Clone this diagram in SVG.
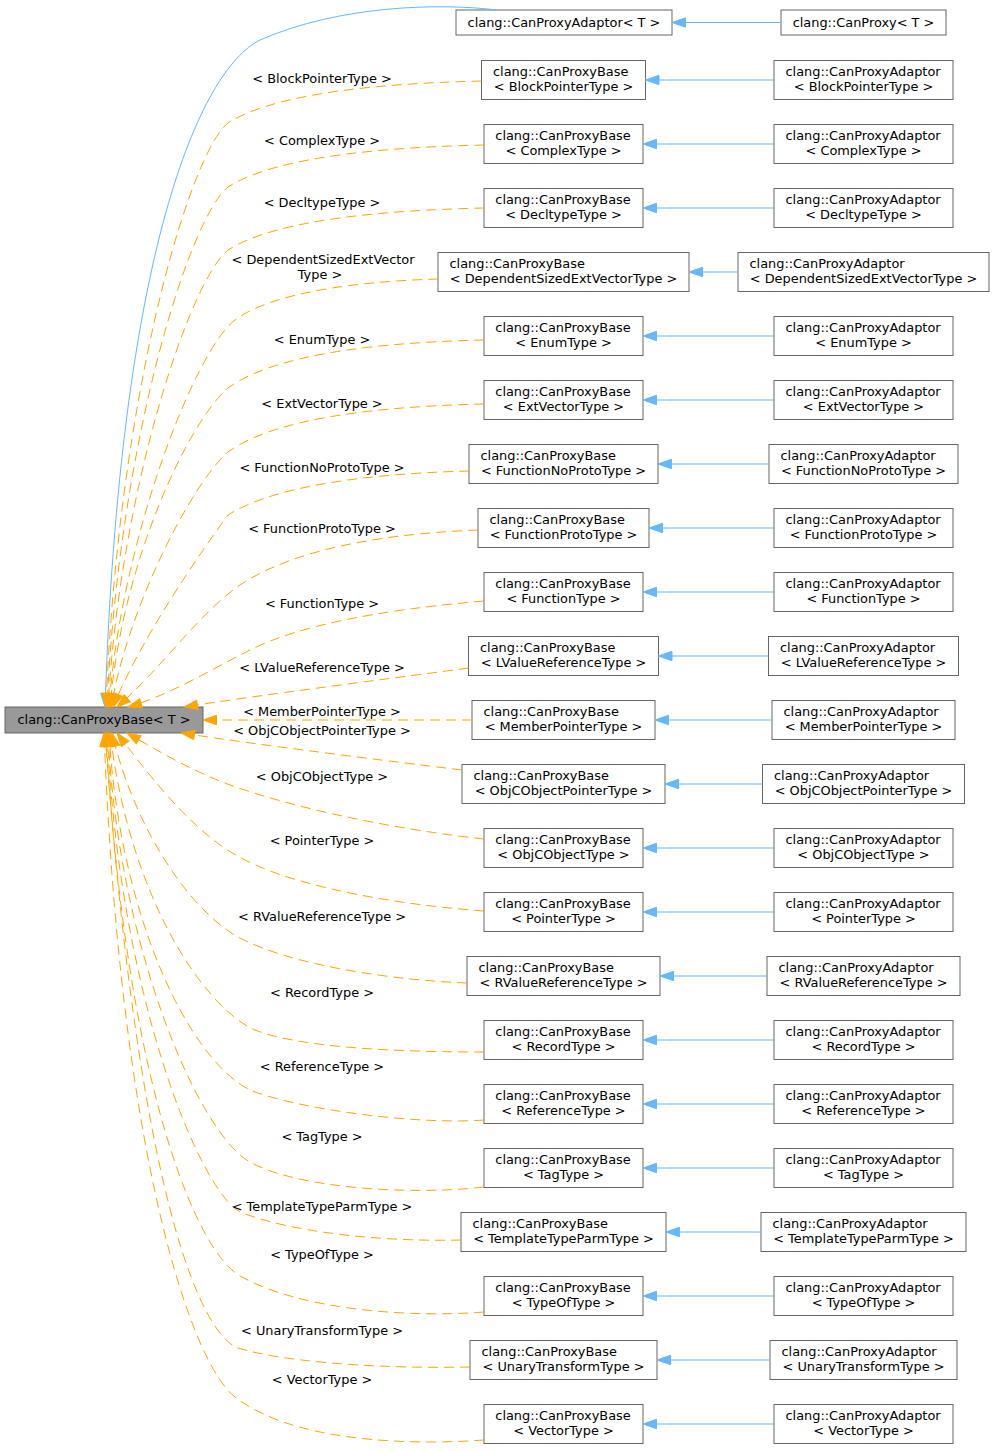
<svg xmlns="http://www.w3.org/2000/svg" width="995" height="1451" viewBox="0 0 995 1451">
<style>
.n rect{fill:#fff;stroke:#666;stroke-width:1}
#main rect{fill:#999}
text{font-family:"DejaVu Sans","Liberation Sans",sans-serif;font-size:12.9px;fill:#000}
.c{text-anchor:middle}
.o{fill:none;stroke:#ffa500;stroke-width:1;stroke-dasharray:10,6;marker-end:url(#ao)}
.b{fill:none;stroke:#63b8ff;stroke-width:1;marker-end:url(#ab)}
</style>
<defs>
<marker id="ao" markerUnits="userSpaceOnUse" markerWidth="16" markerHeight="12" refX="13.5" refY="5" orient="auto" overflow="visible"><path d="M0,0.3 L13.5,5 L0,9.7 z" fill="#ffa500" stroke="#ffa500"/></marker>
<marker id="ab" markerUnits="userSpaceOnUse" markerWidth="16" markerHeight="12" refX="13.5" refY="5" orient="auto" overflow="visible"><path d="M0,0.3 L13.5,5 L0,9.7 z" fill="#63b8ff" stroke="#63b8ff"/></marker>
</defs>
<rect width="995" height="1451" fill="#fff"/>

<g id="main" class="n"><rect x="5" y="707" width="198" height="26"/><text class="c" x="104" y="724">clang::CanProxyBase&lt; T &gt;</text></g>

<g id="adaptorT" class="n"><rect x="456" y="10" width="216" height="25"/><text class="c" x="564" y="27">clang::CanProxyAdaptor&lt; T &gt;</text></g>
<g id="proxyT" class="n"><rect x="781" y="10" width="165" height="25"/><text class="c" x="863.5" y="27">clang::CanProxy&lt; T &gt;</text></g>

<g id="b1" class="n"><rect x="481.5" y="60.5" width="164" height="39"/><text x="493" y="76">clang::CanProxyBase</text><text class="c" x="563.5" y="91">&lt; BlockPointerType &gt;</text></g>
<g id="a1" class="n"><rect x="774" y="60.5" width="179" height="39"/><text x="785.5" y="76">clang::CanProxyAdaptor</text><text class="c" x="863.5" y="91">&lt; BlockPointerType &gt;</text></g>

<g id="b2" class="n"><rect x="484" y="124.5" width="159" height="39"/><text x="495.3" y="140">clang::CanProxyBase</text><text class="c" x="563.5" y="155">&lt; ComplexType &gt;</text></g>
<g id="a2" class="n"><rect x="774" y="124.5" width="179" height="39"/><text x="785.5" y="140">clang::CanProxyAdaptor</text><text class="c" x="863.5" y="155">&lt; ComplexType &gt;</text></g>

<g id="b3" class="n"><rect x="484" y="188.5" width="159" height="39"/><text x="495.3" y="204">clang::CanProxyBase</text><text class="c" x="563.5" y="219">&lt; DecltypeType &gt;</text></g>
<g id="a3" class="n"><rect x="774" y="188.5" width="179" height="39"/><text x="785.5" y="204">clang::CanProxyAdaptor</text><text class="c" x="863.5" y="219">&lt; DecltypeType &gt;</text></g>

<g id="b4" class="n"><rect x="438" y="252.5" width="251" height="39"/><text x="449.5" y="268">clang::CanProxyBase</text><text class="c" x="563.5" y="283">&lt; DependentSizedExtVectorType &gt;</text></g>
<g id="a4" class="n"><rect x="738" y="252.5" width="251" height="39"/><text x="749.5" y="268">clang::CanProxyAdaptor</text><text class="c" x="863.5" y="283">&lt; DependentSizedExtVectorType &gt;</text></g>

<g id="b5" class="n"><rect x="484" y="316.5" width="159" height="39"/><text x="495.3" y="332">clang::CanProxyBase</text><text class="c" x="563.5" y="347">&lt; EnumType &gt;</text></g>
<g id="a5" class="n"><rect x="774" y="316.5" width="179" height="39"/><text x="785.5" y="332">clang::CanProxyAdaptor</text><text class="c" x="863.5" y="347">&lt; EnumType &gt;</text></g>

<g id="b6" class="n"><rect x="484" y="380.5" width="159" height="39"/><text x="495.3" y="396">clang::CanProxyBase</text><text class="c" x="563.5" y="411">&lt; ExtVectorType &gt;</text></g>
<g id="a6" class="n"><rect x="774" y="380.5" width="179" height="39"/><text x="785.5" y="396">clang::CanProxyAdaptor</text><text class="c" x="863.5" y="411">&lt; ExtVectorType &gt;</text></g>

<g id="b7" class="n"><rect x="469" y="444.5" width="189" height="39"/><text x="480.5" y="460">clang::CanProxyBase</text><text class="c" x="563.5" y="475">&lt; FunctionNoProtoType &gt;</text></g>
<g id="a7" class="n"><rect x="769" y="444.5" width="189" height="39"/><text x="780.5" y="460">clang::CanProxyAdaptor</text><text class="c" x="863.5" y="475">&lt; FunctionNoProtoType &gt;</text></g>

<g id="b8" class="n"><rect x="478" y="508.5" width="171" height="39"/><text x="489.5" y="524">clang::CanProxyBase</text><text class="c" x="563.5" y="539">&lt; FunctionProtoType &gt;</text></g>
<g id="a8" class="n"><rect x="774" y="508.5" width="179" height="39"/><text x="785.5" y="524">clang::CanProxyAdaptor</text><text class="c" x="863.5" y="539">&lt; FunctionProtoType &gt;</text></g>

<g id="b9" class="n"><rect x="484" y="572.5" width="159" height="39"/><text x="495.3" y="588">clang::CanProxyBase</text><text class="c" x="563.5" y="603">&lt; FunctionType &gt;</text></g>
<g id="a9" class="n"><rect x="774" y="572.5" width="179" height="39"/><text x="785.5" y="588">clang::CanProxyAdaptor</text><text class="c" x="863.5" y="603">&lt; FunctionType &gt;</text></g>

<g id="b10" class="n"><rect x="468.5" y="636.5" width="190" height="39"/><text x="480" y="652">clang::CanProxyBase</text><text class="c" x="563.5" y="667">&lt; LValueReferenceType &gt;</text></g>
<g id="a10" class="n"><rect x="768.5" y="636.5" width="190" height="39"/><text x="780" y="652">clang::CanProxyAdaptor</text><text class="c" x="863.5" y="667">&lt; LValueReferenceType &gt;</text></g>

<g id="b11" class="n"><rect x="472" y="700.5" width="183" height="39"/><text x="483.5" y="716">clang::CanProxyBase</text><text class="c" x="563.5" y="731">&lt; MemberPointerType &gt;</text></g>
<g id="a11" class="n"><rect x="772" y="700.5" width="183" height="39"/><text x="783.5" y="716">clang::CanProxyAdaptor</text><text class="c" x="863.5" y="731">&lt; MemberPointerType &gt;</text></g>

<g id="b12" class="n"><rect x="462" y="764.5" width="203" height="39"/><text x="473.5" y="780">clang::CanProxyBase</text><text class="c" x="563.5" y="795">&lt; ObjCObjectPointerType &gt;</text></g>
<g id="a12" class="n"><rect x="762.5" y="764.5" width="202" height="39"/><text x="774" y="780">clang::CanProxyAdaptor</text><text class="c" x="863.5" y="795">&lt; ObjCObjectPointerType &gt;</text></g>

<g id="b13" class="n"><rect x="484" y="828.5" width="159" height="39"/><text x="495.3" y="844">clang::CanProxyBase</text><text class="c" x="563.5" y="859">&lt; ObjCObjectType &gt;</text></g>
<g id="a13" class="n"><rect x="774" y="828.5" width="179" height="39"/><text x="785.5" y="844">clang::CanProxyAdaptor</text><text class="c" x="863.5" y="859">&lt; ObjCObjectType &gt;</text></g>

<g id="b14" class="n"><rect x="484" y="892.5" width="159" height="39"/><text x="495.3" y="908">clang::CanProxyBase</text><text class="c" x="563.5" y="923">&lt; PointerType &gt;</text></g>
<g id="a14" class="n"><rect x="774" y="892.5" width="179" height="39"/><text x="785.5" y="908">clang::CanProxyAdaptor</text><text class="c" x="863.5" y="923">&lt; PointerType &gt;</text></g>

<g id="b15" class="n"><rect x="467" y="956.5" width="193" height="39"/><text x="478.5" y="972">clang::CanProxyBase</text><text class="c" x="563.5" y="987">&lt; RValueReferenceType &gt;</text></g>
<g id="a15" class="n"><rect x="767" y="956.5" width="193" height="39"/><text x="778.5" y="972">clang::CanProxyAdaptor</text><text class="c" x="863.5" y="987">&lt; RValueReferenceType &gt;</text></g>

<g id="b16" class="n"><rect x="484" y="1020.5" width="159" height="39"/><text x="495.3" y="1036">clang::CanProxyBase</text><text class="c" x="563.5" y="1051">&lt; RecordType &gt;</text></g>
<g id="a16" class="n"><rect x="774" y="1020.5" width="179" height="39"/><text x="785.5" y="1036">clang::CanProxyAdaptor</text><text class="c" x="863.5" y="1051">&lt; RecordType &gt;</text></g>

<g id="b17" class="n"><rect x="484" y="1084.5" width="159" height="39"/><text x="495.3" y="1100">clang::CanProxyBase</text><text class="c" x="563.5" y="1115">&lt; ReferenceType &gt;</text></g>
<g id="a17" class="n"><rect x="774" y="1084.5" width="179" height="39"/><text x="785.5" y="1100">clang::CanProxyAdaptor</text><text class="c" x="863.5" y="1115">&lt; ReferenceType &gt;</text></g>

<g id="b18" class="n"><rect x="484" y="1148.5" width="159" height="39"/><text x="495.3" y="1164">clang::CanProxyBase</text><text class="c" x="563.5" y="1179">&lt; TagType &gt;</text></g>
<g id="a18" class="n"><rect x="774" y="1148.5" width="179" height="39"/><text x="785.5" y="1164">clang::CanProxyAdaptor</text><text class="c" x="863.5" y="1179">&lt; TagType &gt;</text></g>

<g id="b19" class="n"><rect x="461" y="1212.5" width="205" height="39"/><text x="472.5" y="1228">clang::CanProxyBase</text><text class="c" x="563.5" y="1243">&lt; TemplateTypeParmType &gt;</text></g>
<g id="a19" class="n"><rect x="761" y="1212.5" width="205" height="39"/><text x="772.5" y="1228">clang::CanProxyAdaptor</text><text class="c" x="863.5" y="1243">&lt; TemplateTypeParmType &gt;</text></g>

<g id="b20" class="n"><rect x="484" y="1276.5" width="159" height="39"/><text x="495.3" y="1292">clang::CanProxyBase</text><text class="c" x="563.5" y="1307">&lt; TypeOfType &gt;</text></g>
<g id="a20" class="n"><rect x="774" y="1276.5" width="179" height="39"/><text x="785.5" y="1292">clang::CanProxyAdaptor</text><text class="c" x="863.5" y="1307">&lt; TypeOfType &gt;</text></g>

<g id="b21" class="n"><rect x="470" y="1340.5" width="187" height="39"/><text x="481.5" y="1356">clang::CanProxyBase</text><text class="c" x="563.5" y="1371">&lt; UnaryTransformType &gt;</text></g>
<g id="a21" class="n"><rect x="770" y="1340.5" width="187" height="39"/><text x="781.5" y="1356">clang::CanProxyAdaptor</text><text class="c" x="863.5" y="1371">&lt; UnaryTransformType &gt;</text></g>

<g id="b22" class="n"><rect x="484" y="1404.5" width="159" height="39"/><text x="495.3" y="1420">clang::CanProxyBase</text><text class="c" x="563.5" y="1435">&lt; VectorType &gt;</text></g>
<g id="a22" class="n"><rect x="774" y="1404.5" width="179" height="39"/><text x="785.5" y="1420">clang::CanProxyAdaptor</text><text class="c" x="863.5" y="1435">&lt; VectorType &gt;</text></g>

<g id="connectors">
<path class="b" d="M497,10 C440,3 340,5 260,40 C200,70 120,250 105,707"/>
<path class="b" d="M781,22.5 L672,22.5"/>
<path class="b" d="M774,80 L645.5,80"/>
<path class="b" d="M774,144 L643,144"/>
<path class="b" d="M774,208 L643,208"/>
<path class="b" d="M738,272 L689,272"/>
<path class="b" d="M774,336 L643,336"/>
<path class="b" d="M774,400 L643,400"/>
<path class="b" d="M769,464 L658,464"/>
<path class="b" d="M774,528 L649,528"/>
<path class="b" d="M774,592 L643,592"/>
<path class="b" d="M768.5,656 L658.5,656"/>
<path class="b" d="M772,720 L655,720"/>
<path class="b" d="M762.5,784 L665,784"/>
<path class="b" d="M774,848 L643,848"/>
<path class="b" d="M774,912 L643,912"/>
<path class="b" d="M767,976 L660,976"/>
<path class="b" d="M774,1040 L643,1040"/>
<path class="b" d="M774,1104 L643,1104"/>
<path class="b" d="M774,1168 L643,1168"/>
<path class="b" d="M761,1232 L666,1232"/>
<path class="b" d="M774,1296 L643,1296"/>
<path class="b" d="M770,1360 L657,1360"/>
<path class="b" d="M774,1424 L643,1424"/>

<path class="o" d="M481.5,81 C400,83 280,90 228,123 C190,153 118,394 106,707"/>
<path class="o" d="M484,145 C400,147 280,154 228,187 C190,217 119,440 107,707"/>
<path class="o" d="M484,208 C400,210 280,217 228,250 C190,280 120,490 108,707"/>
<path class="o" d="M438,279 C370,281 275,290 235,320 C195,350 121,540 109,707"/>
<path class="o" d="M484,340 C400,342 280,350 228,388 C190,420 122,560 110,707"/>
<path class="o" d="M484,404 C400,406 280,414 228,452 C195,480 130,600 111,707"/>
<path class="o" d="M469,471 C390,473 280,482 228,515 C200,553 140,640 113,707"/>
<path class="o" d="M478,530 C400,533 300,545 240,585 C200,612 160,670 117,707"/>
<path class="o" d="M484,601 C380,610 300,625 250,650 C210,670 170,695 128,707"/>
<path class="o" d="M468.5,668 C380,680 260,695 184,707"/>
<path class="o" d="M472,720 L203,720"/>
<path class="o" d="M462,770 C380,760 260,745 181,733"/>
<path class="o" d="M484,839 C400,830 300,810 230,785 C190,770 160,752 127,733"/>
<path class="o" d="M484,911 C400,905 300,888 245,860 C200,838 160,790 117,733"/>
<path class="o" d="M467,983 C390,980 290,965 238,937 C190,910 135,830 112,733"/>
<path class="o" d="M484,1052 C400,1052 300,1048 255,1030 C205,1008 130,900 110,733"/>
<path class="o" d="M484,1120 C420,1125 300,1110 250,1090 C190,1060 120,920 109,733"/>
<path class="o" d="M484,1187 C420,1195 300,1190 250,1162 C200,1135 118,950 108,733"/>
<path class="o" d="M461,1240 C380,1242 290,1232 240,1212 C200,1190 120,1000 107,733"/>
<path class="o" d="M484,1312 C410,1318 300,1310 240,1276 C195,1250 125,1080 106,733"/>
<path class="o" d="M470,1367 C380,1369 280,1362 235,1347 C190,1320 135,1150 105,733"/>
<path class="o" d="M484,1440 C400,1446 290,1440 235,1397 C190,1362 120,1150 104,733"/>

<g class="c">
<text class="c" x="322" y="83">&lt; BlockPointerType &gt;</text>
<text class="c" x="322" y="145">&lt; ComplexType &gt;</text>
<text class="c" x="322" y="207">&lt; DecltypeType &gt;</text>
<text class="c" x="323" y="264">&lt; DependentSizedExtVector</text>
<text class="c" x="320" y="279">Type &gt;</text>
<text class="c" x="322" y="344">&lt; EnumType &gt;</text>
<text class="c" x="322" y="408">&lt; ExtVectorType &gt;</text>
<text class="c" x="322" y="472">&lt; FunctionNoProtoType &gt;</text>
<text class="c" x="322" y="533">&lt; FunctionProtoType &gt;</text>
<text class="c" x="322" y="608">&lt; FunctionType &gt;</text>
<text class="c" x="322" y="672">&lt; LValueReferenceType &gt;</text>
<text class="c" x="322" y="716">&lt; MemberPointerType &gt;</text>
<text class="c" x="322" y="735">&lt; ObjCObjectPointerType &gt;</text>
<text class="c" x="322" y="781">&lt; ObjCObjectType &gt;</text>
<text class="c" x="322" y="845">&lt; PointerType &gt;</text>
<text class="c" x="322" y="921">&lt; RValueReferenceType &gt;</text>
<text class="c" x="322" y="997">&lt; RecordType &gt;</text>
<text class="c" x="322" y="1071">&lt; ReferenceType &gt;</text>
<text class="c" x="322" y="1141">&lt; TagType &gt;</text>
<text class="c" x="322" y="1211">&lt; TemplateTypeParmType &gt;</text>
<text class="c" x="322" y="1259">&lt; TypeOfType &gt;</text>
<text class="c" x="322" y="1335">&lt; UnaryTransformType &gt;</text>
<text class="c" x="322" y="1384">&lt; VectorType &gt;</text>
</g>
</g>
</svg>
